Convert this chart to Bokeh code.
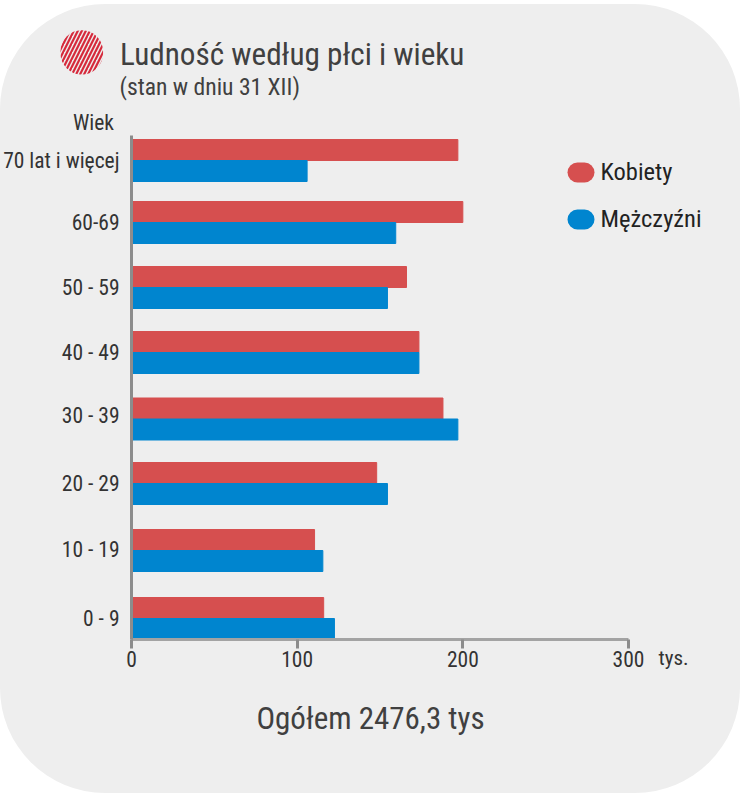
from bokeh.embed import file_html
from bokeh.resources import INLINE
from bokeh.plotting import figure
from bokeh.layouts import column
from bokeh.models import Range1d, LinearAxis, FixedTicker, BoxAnnotation, Label, ColumnDataSource

age_labels = ["70 lat i więcej", "60-69", "50 - 59", "40 - 49", "30 - 39", "20 - 29", "10 - 19", "0 - 9"]
kobiety = [197, 200, 166, 173.5, 188, 148, 110.5, 116]
mezczyzni = [106, 159.5, 154.5, 173.5, 197, 154.5, 115.5, 122.5]
x_ticks = [0, 100, 200, 300]
title = "Ludność według płci i wieku"
subtitle = "(stan w dniu 31 XII)"
y_title = "Wiek"
x_unit = "tys."
total_note = "Ogółem 2476,3 tys"
series_names = ["Kobiety", "Mężczyźni"]

# layout (pixel rows of the uneven groups in the source picture)
group_mid = [160, 222, 287, 352, 418.5, 483, 550, 618]
label_mid = [160, 222, 287, 352, 415, 483, 549, 618]
bar_h = 21
RED, BLUE = "#d64f4f", "#0085cf"
FONT = "Roboto Condensed"
PANEL_L, PANEL_T, PANEL_R, PANEL_B = 0, 4, 740, 793
L, R, T, B = 131, 628, 135, 639
PW, PH = PANEL_R - PANEL_L, PANEL_B - PANEL_T

p = figure(width=PW, height=PH, output_backend="svg", toolbar_location=None,
           x_range=Range1d(0, 300), y_range=Range1d(B, T), frame_align=False,
           min_border_left=L - PANEL_L, min_border_right=PANEL_R - R, min_border_top=T - PANEL_T, min_border_bottom=PANEL_B - B,
           x_axis_type=None, y_axis_type=None, outline_line_color=None,
           background_fill_alpha=0, border_fill_alpha=0,
           styles={"background": "#eeeeee", "border-radius": "105px"})
p.margin = (PANEL_T, 0, 0, PANEL_L)
p.grid.visible = False

src = ColumnDataSource(dict(k=kobiety, m=mezczyzni,
                            yk=[g - bar_h / 2 for g in group_mid], ym=[g + bar_h / 2 for g in group_mid]))
p.hbar(y="yk", right="k", left=0, height=bar_h, color=RED, source=src)
p.hbar(y="ym", right="m", left=0, height=bar_h, color=BLUE, source=src)

xa = LinearAxis(ticker=FixedTicker(ticks=x_ticks), axis_line_color="#a3a3a3", axis_line_width=3,
                major_tick_line_color="#8c8c8c", major_tick_line_width=3, major_tick_in=0, major_tick_out=9,
                minor_tick_line_color=None, major_label_text_font=FONT, major_label_text_font_size="21.5px",
                major_label_text_color="#333333", major_label_standoff=2)
p.add_layout(xa, "below")
ya = LinearAxis(ticker=FixedTicker(ticks=label_mid),
                major_label_overrides={m: a for m, a in zip(label_mid, age_labels)},
                axis_line_color="#8c8c8c", axis_line_width=3, major_tick_line_color=None, minor_tick_line_color=None,
                major_label_text_font=FONT, major_label_text_font_size="21.5px", major_label_text_color="#333333",
                major_label_standoff=6)
p.add_layout(ya, "left")

# transparent full-panel layer for the texts and marks that lie outside the plot frame
o = figure(width=PW, height=PH, output_backend="svg", toolbar_location=None,
           x_range=Range1d(PANEL_L, PANEL_R), y_range=Range1d(PANEL_B, PANEL_T), min_border=0, frame_align=False,
           x_axis_type=None, y_axis_type=None, outline_line_color=None,
           background_fill_alpha=0, border_fill_alpha=0)
o.margin = (-PH, 0, 0, PANEL_L)
o.grid.visible = False

def sx(px):
    return px - PANEL_L

def sy(py):
    return PANEL_B - py

def txt(x, y, s, size, color="#333333", align="left", baseline="middle"):
    o.add_layout(Label(x=sx(x), y=sy(y), x_units="screen", y_units="screen", text=s, text_font=FONT,
                       text_font_size=f"{size}px", text_color=color, text_align=align, text_baseline=baseline))

txt(119.5, 54, title, 31.2, "#404040")
txt(119, 86, subtitle, 23.6, "#404040")
txt(113.5, 122, y_title, 21.5, align="right")
txt(658, 657, x_unit, 21)
txt(370, 718, total_note, 31, "#404040", align="center")

o.add_layout(Label(x=sx(60), y=sy(74), x_units="screen", y_units="screen", text="\u00a0", text_font_size="2px",
                   padding=21, background_fill_color=None, border_radius=21,
                   background_hatch_pattern="right_diagonal_line", background_hatch_color="#d62a3c",
                   background_hatch_scale=8, background_hatch_weight=2.2))

for (top, bottom, col, name, ty) in [(162, 182, RED, series_names[0], 171), (209, 229, BLUE, series_names[1], 218)]:
    o.add_layout(BoxAnnotation(left=sx(567), right=sx(594), top=sy(top), bottom=sy(bottom),
                               left_units="screen", right_units="screen", top_units="screen", bottom_units="screen",
                               editable=False, fill_color=col, fill_alpha=1, line_color=None, border_radius=10))
    txt(600, ty, name, 24.5, "#222222")

open("out.html", "w").write(file_html(column(p, o, spacing=0), INLINE))
